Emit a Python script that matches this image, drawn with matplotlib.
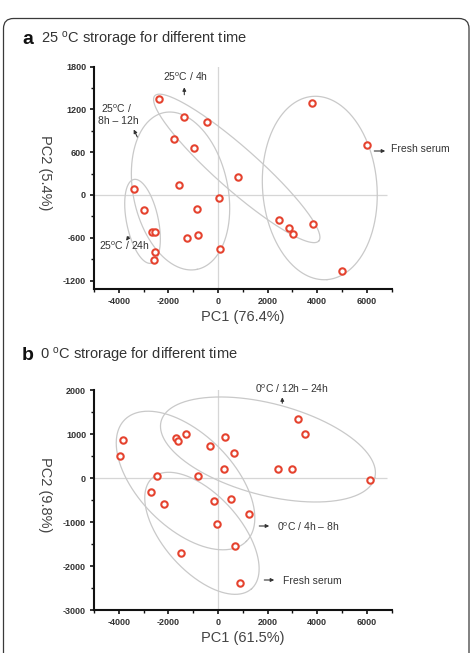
import numpy as np
import matplotlib
matplotlib.use('Agg')
import matplotlib.pyplot as plt
from matplotlib.patches import FancyBboxPatch
from matplotlib.transforms import IdentityTransform
from matplotlib.ticker import MultipleLocator

plt.rcParams['font.family'] = ['Liberation Sans', 'DejaVu Sans']
plt.rcParams['mathtext.fontset'] = 'custom'
plt.rcParams['mathtext.rm'] = 'Liberation Sans'
plt.rcParams['mathtext.it'] = 'Liberation Sans:italic'
plt.rcParams['mathtext.bf'] = 'Liberation Sans:bold'
plt.rcParams['axes.unicode_minus'] = False

# ---------------- data ----------------
pc1_a = [-2360, -1380, -430, -1790, -950, 820, -1560, -3370, 40, -850, -2970,
         -2670, -2540, -820, -1235, 70, -2540, -2590, 3770, 6000, 2470, 2850,
         3010, 3820, 4990]
pc2_a = [1340, 1090, 1020, 790, 665, 250, 140, 90, -40, -190, -210,
         -525, -525, -560, -605, -760, -795, -915, 1290, 705, -345, -470,
         -545, -405, -1070]

pc1_b = [-3820, -3940, -1710, -1600, -1280, -340, 298, 630, 230, -806, -2465,
         -2690, -2180, -165, 540, 1255, -25, 680, -1476, 870, 3205, 3490,
         2400, 2965, 6130]
pc2_b = [860, 505, 900, 840, 995, 725, 930, 575, 200, 50, 35,
         -315, -587, -527, -485, -818, -1056, -1545, -1705, -2385, 1350, 1000,
         195, 210, -40]

xlabel_a, ylabel_a = 'PC1 (76.4%)', 'PC2 (5.4%)'
xlabel_b, ylabel_b = 'PC1 (61.5%)', 'PC2 (9.8%)'
title_a = r'25 $^{\rm o}$C strorage for different time'
title_b = r'0 $^{\rm o}$C strorage for different time'

W, H = 471, 653
fig = plt.figure(figsize=(W / 100, H / 100), dpi=100)

def fx(px):
    return px / W

def fy(py):
    return 1 - py / H

RED = '#e5432f'
GRAY = '#c9c9c9'
TXT = '#333333'

def make_axes(top, bottom, ylim, ymajor, yminor):
    ax = fig.add_axes([fx(94), fy(bottom), (391.7 - 94) / W, (bottom - top) / H])
    ax.set_xlim(-5000, 7000)
    ax.set_ylim(*ylim)
    for s in ['top', 'right']:
        ax.spines[s].set_visible(False)
    for s in ['left', 'bottom']:
        ax.spines[s].set_linewidth(1.5)
        ax.spines[s].set_color('#111111')
    ax.xaxis.set_major_locator(MultipleLocator(2000))
    ax.xaxis.set_minor_locator(MultipleLocator(1000))
    ax.yaxis.set_major_locator(MultipleLocator(ymajor))
    ax.yaxis.set_minor_locator(MultipleLocator(yminor))
    ax.tick_params(which='major', direction='out', length=3.2, width=1.2,
                   labelsize=6.5, colors='#111111', labelcolor=TXT, pad=2.5)
    ax.tick_params(which='minor', direction='out', length=2.2, width=1.0,
                   colors='#111111')
    for lab in ax.get_xticklabels() + ax.get_yticklabels():
        lab.set_fontweight('bold')
    ax.axvline(0, color='#d6d6d6', lw=0.9, zorder=0)
    ax.hlines(0, -5000, 6800, color='#d6d6d6', lw=0.9, zorder=0)
    return ax

def draw_ellipse(ax, cx, cy, a_px, b_px, ang):
    pos = ax.get_position()
    x0, x1 = ax.get_xlim()
    y0, y1 = ax.get_ylim()
    sx = (x1 - x0) / (pos.width * W)
    sy = (y1 - y0) / (pos.height * H)
    t = np.linspace(0, 2 * np.pi, 400)
    th = np.radians(ang)
    u, v = a_px * np.cos(t), b_px * np.sin(t)
    dx = u * np.cos(th) - v * np.sin(th)
    dy = u * np.sin(th) + v * np.cos(th)
    ax.plot(cx + dx * sx, cy - dy * sy, color=GRAY, lw=0.9, zorder=1)

def arrow(tail, head):
    fig.add_artist(matplotlib.patches.FancyArrowPatch(
        (fx(tail[0]), fy(tail[1])), (fx(head[0]), fy(head[1])),
        transform=fig.transFigure, arrowstyle='-|>', mutation_scale=5,
        lw=0.8, color=TXT))

def label(px, py, s, ha='center', size=7.5):
    fig.text(fx(px), fy(py), s, ha=ha, va='center', fontsize=size, color=TXT)

# ---------------- panel a ----------------
ax1 = make_axes(66.7, 288.7, (-1315, 1800), 600, 300)
ax1.plot(pc1_a, pc2_a, 'o', ms=4.6, mfc='white', mec=RED, mew=1.5, zorder=3)
draw_ellipse(ax1, 754, 373, 109.5, 21, 41.5)
draw_ellipse(ax1, -1512, 56, 80.1, 47.3, 78)
draw_ellipse(ax1, -3044, -370, 42.8, 15.9, 78.3)
draw_ellipse(ax1, 4101, 98, 91.9, 57.2, 85.5)
ax1.set_xlabel(xlabel_a, fontsize=10.5, color='#444444', labelpad=3)
fig.text(fx(45), fy(173), ylabel_a, rotation=270, ha='center', va='center',
         fontsize=10.5, color='#444444')

label(185.5, 77, r'25$^{\rm o}$C / 4h')
arrow((184.3, 97.5), (184.3, 84.5))
label(117, 108.5, r'25$^{\rm o}$C /')
label(118, 121, '8h – 12h')
arrow((138.5, 139.5), (132.5, 127))
label(124.5, 245.5, r'25$^{\rm o}$C / 24h')
arrow((130.5, 234.5), (124.5, 243))
label(391, 149.5, 'Fresh serum', ha='left')
arrow((371.5, 151), (388, 151))

fig.text(fx(22), fy(39.5), 'a', fontsize=14, fontweight='bold', va='center',
         color='#111111')
fig.text(fx(41), fy(39.5), title_a, fontsize=10.5, va='center', color=TXT)

# ---------------- panel b ----------------
ax2 = make_axes(390, 610, (-3000, 2000), 1000, 500)
ax2.plot(pc1_b, pc2_b, 'o', ms=4.6, mfc='white', mec=RED, mew=1.5, zorder=3)
draw_ellipse(ax2, -1310, -57, 86, 47, 45)
draw_ellipse(ax2, -649, -1257, 74.4, 38.2, 48.2)
draw_ellipse(ax2, 2012, 648, 110.5, 45.8, 14.8)
ax2.set_xlabel(xlabel_b, fontsize=10.5, color='#444444', labelpad=3)
fig.text(fx(45), fy(495), ylabel_b, rotation=270, ha='center', va='center',
         fontsize=10.5, color='#444444')

label(255, 388.5, r'0$^{\rm o}$C / 12h – 24h', ha='left')
arrow((282.3, 406), (282.3, 394.5))
label(277, 526.5, r'0$^{\rm o}$C / 4h – 8h', ha='left')
arrow((256.5, 526), (272, 526))
label(283, 580.5, 'Fresh serum', ha='left')
arrow((261.5, 580), (277, 580))

fig.text(fx(22), fy(355), 'b', fontsize=14, fontweight='bold', va='center',
         color='#111111')
fig.text(fx(40), fy(355), title_b, fontsize=10.5, va='center', color=TXT)

# ---------------- frame ----------------
frame = FancyBboxPatch((3.5, -30), 465.5, H - 18.5 + 30,
                       boxstyle='round,pad=0,rounding_size=10',
                       transform=IdentityTransform(), fill=False,
                       ec='#3a3a3a', lw=0.9)
fig.add_artist(frame)

fig.savefig('out.png', dpi=100)
